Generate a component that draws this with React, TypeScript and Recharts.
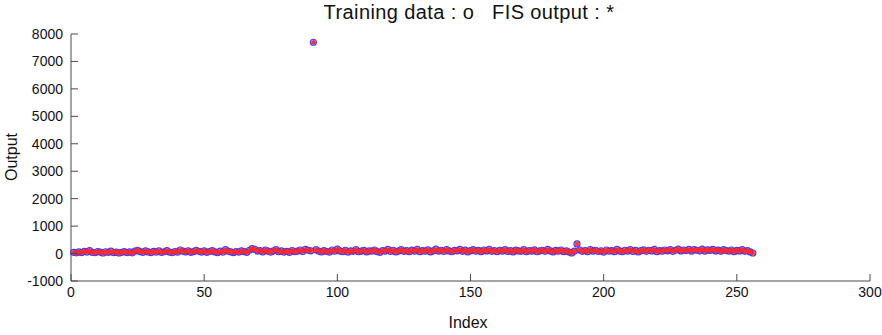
import React from "react";
import { ScatterChart, Scatter, XAxis, YAxis } from "recharts";

const X_TICKS = [0, 50, 100, 150, 200, 250, 300];
const Y_TICKS = [-1000, 0, 1000, 2000, 3000, 4000, 5000, 6000, 7000, 8000];

// training data, index 1..256
const TRAINING = [
  40, 25, 60, 35, 80, 55, 110, 45, 30, 70, 50, 20, 65, 40, 85, 30,
  55, 20, 45, 75, 35, 60, 25, 90, 120, 70, 45, 100, 60, 35, 80, 50,
  95, 40, 65, 110, 55, 30, 75, 50, 130, 85, 60, 100, 45, 70, 120, 80,
  55, 95, 40, 75, 110, 60, 30, 85, 50, 140, 90, 60, 35, 75, 50, 100,
  70, 45, 120, 180, 150, 90, 110, 60, 130, 85, 50, 100, 140, 70, 95, 55,
  80, 40, 110, 65, 90, 130, 75, 150, 120, 100, 7700, 140, 90, 60, 110, 75,
  50, 130, 85, 160, 95, 70, 120, 55, 100, 80, 140, 65, 90, 115, 60, 100,
  85, 130, 70, 45, 110, 90, 150, 75, 120, 60, 95, 140, 80, 105, 65, 125,
  90, 150, 70, 110, 85, 135, 60, 100, 160, 90, 120, 75, 140, 95, 65, 115,
  100, 150, 80, 125, 60, 105, 140, 85, 115, 70, 130, 95, 150, 80, 110, 65,
  120, 90, 140, 75, 105, 60, 125, 95, 80, 145, 70, 110, 90, 135, 65, 100,
  120, 80, 150, 95, 60, 115, 85, 130, 70, 100, 55, 20, 90, 350, 130, 80,
  110, 65, 140, 90, 120, 75, 100, 55, 130, 85, 110, 70, 150, 95, 65, 120,
  90, 140, 75, 115, 60, 105, 135, 80, 120, 95, 150, 70, 110, 85, 130, 100,
  145, 80, 120, 165, 95, 130, 110, 155, 85, 140, 120, 100, 165, 90, 135, 115,
  150, 95, 125, 80, 140, 110, 90, 130, 70, 115, 95, 140, 80, 110, 60, 20,
];

// FIS output sits right on top of the training data at this scale
const FIS_OUTPUT = TRAINING;

const trainPts = TRAINING.map((v, i) => ({ index: i + 1, value: v }));
const fisPts = FIS_OUTPUT.map((v, i) => ({ index: i + 1, value: v }));

const AXIS = "#4a4a4a";
const TEXT = "#111";
const FONT = "'Liberation Sans', Arial, sans-serif";

function XTick({ x, y, payload }: any) {
  const axisY = y - 6;
  return (
    <g>
      <line x1={x} y1={axisY} x2={x} y2={axisY - 7} stroke={AXIS} strokeWidth={1} />
      <text x={x} y={y} dy="0.71em" textAnchor="middle" fill={TEXT} fontSize={14} fontFamily={FONT}>
        {payload.value}
      </text>
    </g>
  );
}

function YTick({ x, y, payload }: any) {
  const axisX = x + 8;
  return (
    <g>
      <line x1={axisX} y1={y} x2={axisX + 7} y2={y} stroke={AXIS} strokeWidth={1} />
      <text x={x} y={y} dy="0.355em" textAnchor="end" fill={TEXT} fontSize={14} fontFamily={FONT}>
        {payload.value}
      </text>
    </g>
  );
}

function Ring(p: any) {
  return <circle cx={p.cx} cy={p.cy} r={3} fill="none" stroke="#3a3aff" strokeWidth={1.2} />;
}

function Star(p: any) {
  const { cx, cy } = p;
  const s = 2.6;
  const d = s * 0.7;
  return (
    <g stroke="#ff2a2a" strokeWidth={1.3}>
      <line x1={cx - s} y1={cy} x2={cx + s} y2={cy} />
      <line x1={cx} y1={cy - s} x2={cx} y2={cy + s} />
      <line x1={cx - d} y1={cy - d} x2={cx + d} y2={cy + d} />
      <line x1={cx - d} y1={cy + d} x2={cx + d} y2={cy - d} />
    </g>
  );
}

export default function App() {
  return (
    <div style={{ position: "absolute", left: 0, top: 0, width: 882, height: 335, background: "#fff" }}>
      <ScatterChart width={882} height={335} margin={{ top: 34, right: 12, bottom: 24, left: 0 }}>
        <XAxis
          type="number"
          dataKey="index"
          domain={[0, 300]}
          ticks={X_TICKS}
          interval={0}
          tickLine={false}
          tickSize={0}
          tickMargin={6}
          height={30}
          stroke={AXIS}
          tick={<XTick />}
        />
        <YAxis
          type="number"
          dataKey="value"
          domain={[-1000, 8000]}
          ticks={Y_TICKS}
          interval={0}
          tickLine={false}
          tickSize={0}
          tickMargin={8}
          width={71}
          stroke={AXIS}
          tick={<YTick />}
        />
        <Scatter data={trainPts} shape={<Ring />} isAnimationActive={false} />
        <Scatter data={fisPts} shape={<Star />} isAnimationActive={false} />
      </ScatterChart>
      <div
        style={{
          position: "absolute", left: 269, top: 1, width: 400, textAlign: "center",
          fontFamily: FONT, fontSize: 20, letterSpacing: 0.4, color: TEXT, whiteSpace: "pre",
        }}
      >
        {"Training data : o   FIS output : *"}
      </div>
      <div
        style={{
          position: "absolute", left: 12, top: 157, transform: "translate(-50%, -50%) rotate(-90deg)",
          fontFamily: FONT, fontSize: 16, color: TEXT, whiteSpace: "nowrap",
        }}
      >
        Output
      </div>
      <div
        style={{
          position: "absolute", left: 468, top: 323, transform: "translate(-50%, -50%)",
          fontFamily: FONT, fontSize: 16, color: TEXT, whiteSpace: "nowrap",
        }}
      >
        Index
      </div>
    </div>
  );
}
